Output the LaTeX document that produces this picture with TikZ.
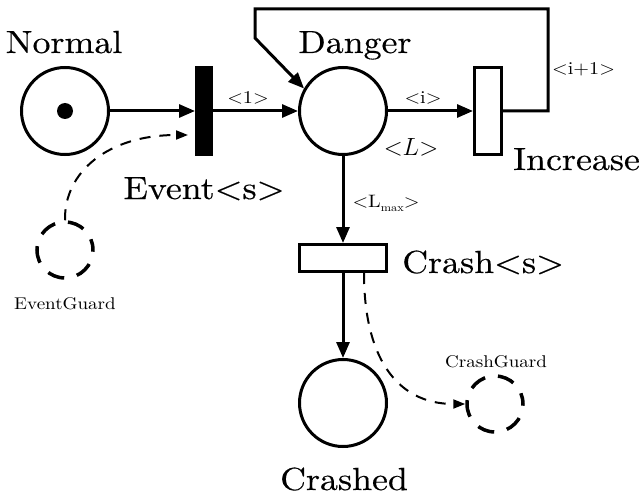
\documentclass[tikz,border=0pt]{standalone}
\usepackage{fontspec}
\setmainfont{lmroman10-regular}[Extension=.otf,FakeStretch=1.12,
  ItalicFont=lmroman10-italic,BoldFont=lmroman10-bold]
\newfontfamily\headfont{lmroman10-regular}[Extension=.otf,FakeStretch=1.12,FakeBold=0.35]
\usetikzlibrary{arrows.meta}
\begin{document}
\begin{tikzpicture}[x=1pt,y=-1pt,
  place/.style={circle,draw,line width=3pt,minimum size=87pt,inner sep=0pt},
  guard/.style={circle,draw,line width=3.5pt,dash pattern=on 17pt off 13pt,dash phase=6pt,minimum size=56pt,inner sep=0pt},
  trans/.style={rectangle,draw,line width=3pt,inner sep=0pt},
  arc/.style={line width=3pt,-{Triangle[length=16pt,width=13pt]}},
  guardarc/.style={line width=2pt,dash pattern=on 11pt off 9pt,-{Triangle[length=12pt,width=9pt]}},
  biglabel/.style={font=\headfont\fontsize{32}{38}\selectfont,anchor=base,inner sep=0pt},
  arclabel/.style={font=\fontsize{18}{22}\selectfont,anchor=base,inner sep=0pt},
  guardlabel/.style={font=\fontsize{17}{20}\selectfont,anchor=base,inner sep=0pt}]
\useasboundingbox (0,0) rectangle (642,500);

% places
\node[place] (N) at (65,111) {};
\fill (N) circle (8pt);
\node[place] (D) at (343,111) {};
\node[place] (X) at (343,403) {};

% transitions
\node[rectangle,fill=black,draw,line width=1pt,inner sep=0pt,minimum width=17pt,minimum height=88pt] (E) at (204,111) {};
\node[trans,minimum width=27pt,minimum height=86pt] (I) at (488,111) {};
\node[trans,minimum width=87pt,minimum height=27pt] (C) at (343,258) {};

% guards
\node[guard] (EG) at (65,250) {};
\node[guard] (CG) at (495,404) {};

% labels
\node[biglabel] at (64,53) {Normal};
\node[biglabel] at (355,53) {Danger};
\node[biglabel] at (204,199) {Event<s>};
\node[biglabel,anchor=base west] at (513,170) {Increase};
\node[biglabel,anchor=base west] at (402,273) {Crash<s>};
\node[biglabel] at (344,490) {Crashed};
\node[anchor=base,inner sep=0pt,font=\fontsize{27}{30}\selectfont] at (411,155) {${<}L{>}$};
\node[arclabel] at (248,103) {<1>};
\node[arclabel] at (423,103) {<i>};
\node[arclabel,anchor=base west] at (552,75) {<i+1>};
\node[arclabel] at (386,207) {<L\raisebox{-4pt}{\fontsize{11}{12}\selectfont max}>};
\node[guardlabel] at (65,309) {EventGuard};
\node[guardlabel] at (496,367) {CrashGuard};

% arcs
\draw[arc] (N) -- (E);
\draw[arc] (E) -- (D);
\draw[arc] (D) -- (I);
\draw[arc] (D) -- (C);
\draw[arc] (C) -- (X);

% feedback arc from Increase back to Danger
\coordinate (f1) at (548,111);
\coordinate (f2) at (548,9);
\coordinate (f3) at (255,9);
\coordinate (f4) at (255,38);
\draw[arc,line join=miter] (I.east) -- (f1) -- (f2) -- (f3) -- (f4) -- (D.150);

% guard connections
\coordinate (egIn) at (188,135);
\draw[guardarc] (EG.north) .. controls (64,172) and (108,135) .. (egIn);
\coordinate (cgOut) at (364,273);
\draw[guardarc] (cgOut) .. controls (364,355) and (395,404) .. (CG.west);
\end{tikzpicture}
\end{document}
